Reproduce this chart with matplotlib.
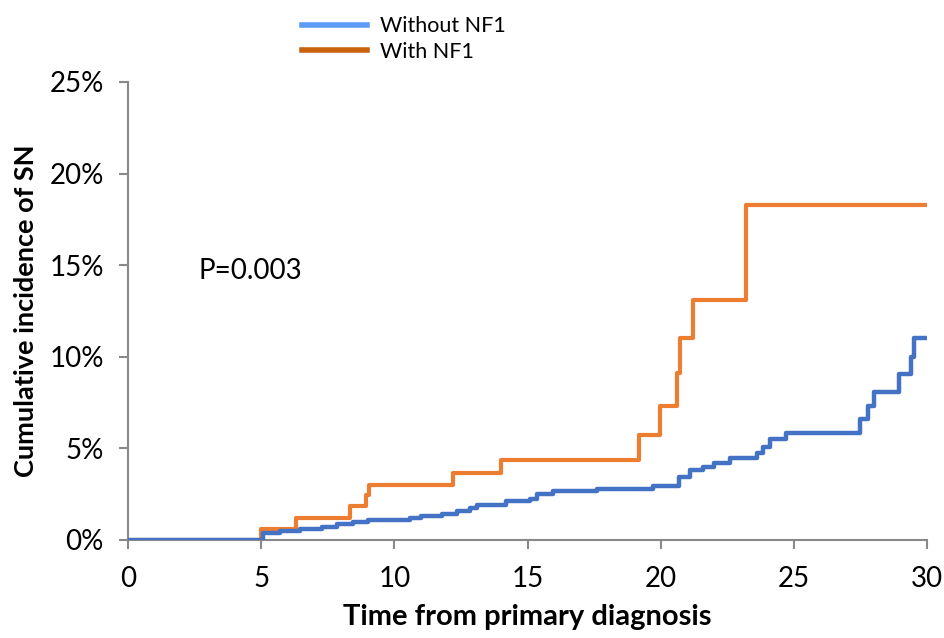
import matplotlib
matplotlib.use("Agg")
import matplotlib.pyplot as plt
from matplotlib.lines import Line2D
from matplotlib.ticker import FuncFormatter

# ---- data ----
without_t = [0, 5.07, 5.7, 6.46, 7.3, 7.85, 8.45, 9.0, 10.6, 11.0, 11.8, 12.35,
             12.85, 13.1, 14.2, 15.1, 15.35, 15.96, 17.6, 19.7, 20.7, 21.1, 21.6,
             22.0, 22.6, 23.6, 23.85, 24.1, 24.7, 27.5, 27.8, 28.0, 28.95, 29.4,
             29.5, 30.0]
without_ci = [0.0, 0.4, 0.5, 0.6, 0.73, 0.86, 0.97, 1.08, 1.2, 1.33, 1.43, 1.58,
              1.76, 1.93, 2.12, 2.25, 2.52, 2.68, 2.8, 2.95, 3.46, 3.82, 4.0,
              4.2, 4.45, 4.77, 5.1, 5.5, 5.86, 6.6, 7.3, 8.1, 9.06, 10.0,
              11.0, 11.0]

with_t = [0, 5.0, 6.3, 8.34, 8.94, 9.05, 12.2, 14.0, 19.2, 19.98, 20.6, 20.72,
          21.2, 23.2, 30.0]
with_ci = [0.0, 0.6, 1.2, 1.86, 2.46, 3.0, 3.65, 4.35, 5.75, 7.3, 9.1, 11.05,
           13.1, 18.3, 18.3]

series_labels = ["Without NF1", "With NF1"]
x_ticks = [0, 5, 10, 15, 20, 25, 30]
y_ticks = [0, 5, 10, 15, 20, 25]
p_label = "P=0.003"

FONT = "Lato"
GRAY = "#898989"

fig = plt.figure(figsize=(9.44, 6.38), dpi=100)
ax = fig.add_axes([128 / 944, 1 - 540 / 638, (927 - 128) / 944, (540 - 82) / 638])

ax.step(with_t, with_ci, where="post", color="#ED7D31", lw=3.0, zorder=3)
ax.step(without_t, without_ci, where="post", color="#4472C4", lw=3.2, zorder=4)

ax.set_xlim(0, 30)
ax.set_ylim(0, 25)
ax.set_xticks(x_ticks)
ax.set_yticks(y_ticks)
ax.yaxis.set_major_formatter(FuncFormatter(lambda v, p: f"{int(v)}%"))

for s in ["top", "right"]:
    ax.spines[s].set_visible(False)
for s in ["left", "bottom"]:
    ax.spines[s].set_color(GRAY)
    ax.spines[s].set_linewidth(1.5)
ax.tick_params(axis="both", direction="out", length=6.5, width=1.5, color=GRAY,
               labelsize=20, labelcolor="black")
ax.tick_params(axis="x", pad=12)
ax.tick_params(axis="y", pad=11)
for lab in ax.get_xticklabels() + ax.get_yticklabels():
    lab.set_fontfamily(FONT)

ax.set_xlabel("Time from primary diagnosis", fontsize=21, fontweight="bold",
              family=FONT, labelpad=9)
ax.set_ylabel("Cumulative incidence of SN", fontsize=19.5, fontweight="bold",
              family=FONT, labelpad=8)

ax.text(0.088, 0.587, p_label, transform=ax.transAxes, fontsize=20, family=FONT,
        va="center", ha="left")

handles = [Line2D([], [], color="#5B9BF5", lw=4),
           Line2D([], [], color="#C8620F", lw=4)]
leg = fig.legend(handles, series_labels, loc="upper left",
                 bbox_to_anchor=(283 / 944, 1 + 3 / 638), frameon=False,
                 prop={"family": FONT, "size": 15.5}, handlelength=3.0,
                 handletextpad=0.6, labelspacing=0.25)

fig.savefig("out.png", dpi=100)
